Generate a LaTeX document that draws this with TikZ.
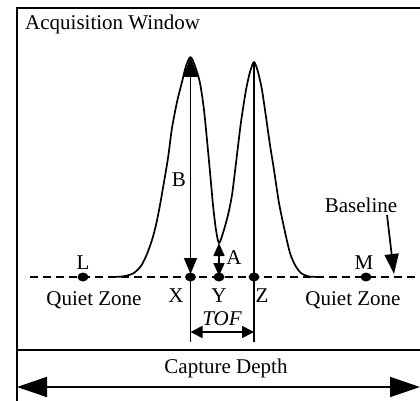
\documentclass[tikz,border=0pt]{standalone}
\usepackage{fontspec}
\setmainfont{Liberation Serif}
\usetikzlibrary{arrows.meta,shapes.geometric}
\begin{document}
\begin{tikzpicture}[x=1pt,y=-1pt,
  lbl/.style={inner sep=0pt,font=\fontsize{21}{24}\selectfont},
  dotnode/.style={ellipse,fill=black,minimum width=11pt,minimum height=9pt,inner sep=0pt},
  frameline/.style={line width=2pt},
  curve/.style={line width=1.7pt,line join=round},
  vline/.style={line width=1.7pt},
  midhead/.style={{Triangle[length=13pt,width=11pt]}-{Triangle[length=13pt,width=11pt]}},
  tofhead/.style={{Triangle[length=12pt,width=12pt]}-{Triangle[length=12pt,width=12pt]}},
  caphead/.style={{Triangle[length=30pt,width=20pt]}-{Triangle[length=30pt,width=20pt]}}]
\useasboundingbox (0,0) rectangle (420,401);
% frame
\draw[frameline] (17,401) -- (17,8) -- (420,8);
\draw[frameline] (17,350) -- (420,350);
\node[lbl,anchor=base west] (title) at (25,30) {Acquisition Window};
% baseline
\draw[line width=1.5pt,dash pattern=on 8pt off 5pt] (30,277) -- (420,277);
% curve
\draw[curve] plot[smooth,tension=0.45] coordinates {
 (108,277) (122,276.5) (133,273.5) (141,266) (147,254) (152,240) (156,225)
 (160,205) (164,182) (168,158) (172,128) (177,102) (182,82) (186,66) (190.5,57)
 (195,66) (200,83) (204,110) (207,140) (210,172) (213,205) (216,230) (219,243)
 (223,233) (228,215) (232,195) (236,163) (241,122) (246,90) (250,72) (254,62)
 (258,72) (262,90) (266,117) (270,145) (274,170) (279,203) (285,232) (290,253)
 (295,265) (301,273) (309,276.5) (322,277)};
% points
\node[dotnode] (L) at (83,277) {};
\node[dotnode] (X) at (190.5,277) {};
\node[dotnode] (Y) at (219,277) {};
\node[dotnode] (Z) at (254,277) {};
\node[dotnode] (M) at (366,277) {};
\coordinate (P1) at (190.5,57);
\coordinate (P2) at (254,62);
\coordinate (V) at (219,243);
\coordinate (Xb) at (190.5,342);
\coordinate (Zb) at (254,342);
% verticals
\draw[vline] (X.center) -- (Xb);
\draw[vline] (P2) -- (Zb);
\draw[vline,shorten >=3pt,{Triangle[length=20pt,width=15pt]}-{Triangle[length=16pt,width=13pt]}] (P1) -- (X.center);
\draw[vline,shorten >=1pt,midhead] (V) -- (Y.center);
% TOF
\coordinate (T1) at (190.5,332);
\coordinate (T2) at (254,332);
\draw[vline,tofhead] (T1) -- (T2);
\node[lbl,font=\fontsize{21}{24}\selectfont\itshape] (tof) at (222,319) {TOF};
% labels
\node[lbl] (Blbl) at (179,180) {B};
\node[lbl] (Albl) at (234,258) {A};
\node[lbl] (Llbl) at (83,263) {L};
\node[lbl] (Mlbl) at (364,263) {M};
\node[lbl] (Xlbl) at (176,296) {X};
\node[lbl] (Ylbl) at (219,296) {Y};
\node[lbl] (Zlbl) at (262,296) {Z};
\node[lbl] (qz1) at (94,300) {Quiet Zone};
\node[lbl] (qz2) at (353,300) {Quiet Zone};
\node[lbl] (bl) at (361,205) {Baseline};
\coordinate (bls) at (387,215);
\coordinate (blt) at (394,274);
\draw[line width=1.7pt,-{Triangle[length=20pt,width=14pt]}] (bls) -- (blt);
% capture depth
\node[lbl] (cd) at (226,368) {Capture Depth};
\coordinate (C1) at (17,387);
\coordinate (C2) at (420,387);
\draw[line width=1.7pt,caphead] (C1) -- (C2);
\end{tikzpicture}
\end{document}
